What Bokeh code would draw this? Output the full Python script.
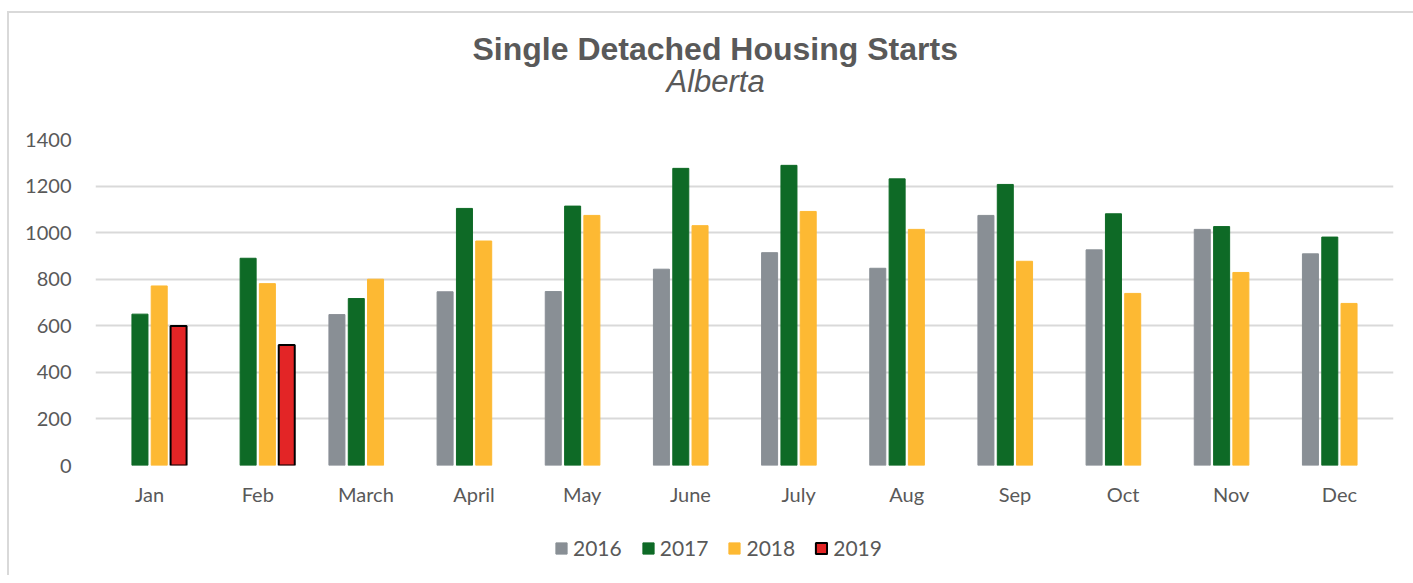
import math
from bokeh.plotting import figure
from bokeh.layouts import column
from bokeh.models import FactorRange, Range1d, Legend, LegendItem, Title, ColumnDataSource, SingleIntervalTicker
from bokeh.transform import dodge
from bokeh.embed import file_html
from bokeh.resources import INLINE

months = ["Jan", "Feb", "March", "April", "May", "June", "July", "Aug", "Sep", "Oct", "Nov", "Dec"]
years = ["2016", "2017", "2018", "2019"]
s2016 = [None, None, 648, 746, 747, 843, 914, 847, 1074, 926, 1014, 909]
s2017 = [650, 890, 717, 1104, 1114, 1276, 1289, 1231, 1207, 1081, 1026, 981]
s2018 = [771, 781, 800, 964, 1074, 1030, 1091, 1014, 877, 739, 829, 696]
s2019 = [599, 518, None, None, None, None, None, None, None, None, None, None]

colors = ["#898F95", "#0E6A26", "#FDB933", "#E32526"]
outlines = ["#898F95", "#0E6A26", "#FDB933", "#000000"]
offsets = [-0.268, -0.089, 0.089, 0.268]

def clean(v):
    return [float("nan") if x is None else x for x in v]

src = ColumnDataSource(dict(month=months, y2016=clean(s2016), y2017=clean(s2017),
                            y2018=clean(s2018), y2019=clean(s2019)))

TXT = "#595959"
FONT = "Lato"
DX, DY = 9, 13  # shift caused by the outer border/margin
W = 1413 - DX

p = figure(x_range=FactorRange(*months), y_range=Range1d(0, 1400),
           width=W, height=530 - DY, output_backend="svg", toolbar_location=None,
           min_border_left=95 - DX, min_border_right=20, min_border_top=139 - DY, min_border_bottom=65)

for i, y in enumerate(years):
    p.vbar(x=dodge("month", offsets[i], range=p.x_range), top="y" + y, width=0.148,
           source=src, fill_color=colors[i], line_color=outlines[i],
           line_width=2 if y == "2019" else 1)

p.outline_line_color = None
p.background_fill_color = "white"
p.border_fill_color = "white"
p.xgrid.grid_line_color = None
p.ygrid.grid_line_color = "#D9D9D9"
p.ygrid.grid_line_width = 2
p.yaxis.ticker = SingleIntervalTicker(interval=200)
for ax in (p.xaxis, p.yaxis):
    ax.axis_line_color = None
    ax.major_tick_line_color = None
    ax.minor_tick_line_color = None
    ax.major_tick_out = 0
    ax.major_tick_in = 0
    ax.major_label_text_font = FONT
    ax.major_label_text_font_size = "20px"
    ax.major_label_text_color = TXT
p.yaxis.major_label_standoff = 20
p.xaxis.major_label_standoff = 16
p.x_range.range_padding = 0

sub = Title(text="Alberta", align="left", text_font="Liberation Sans", text_font_size="31px",
            text_font_style="italic", text_color=TXT, standoff=82, offset=571)
main = Title(text="Single Detached Housing Starts", align="left", text_font="Liberation Sans",
             text_font_size="32px", text_font_style="bold", text_color=TXT, standoff=-93, offset=377)
p.add_layout(sub, "above")
p.add_layout(main, "above")

# legend strip below the chart (hidden proxy renderers; only the legend shows)
lf = figure(width=W, height=45, output_backend="svg", toolbar_location=None,
            x_range=FactorRange(*months), y_range=Range1d(5000, 6000),
            x_axis_location=None, y_axis_location=None,
            min_border_left=0, min_border_right=0, min_border_top=0, min_border_bottom=0)
lf.outline_line_color = None
lf.xgrid.grid_line_color = None
lf.ygrid.grid_line_color = None
lf.border_fill_color = "white"
items = []
for i, y in enumerate(years):
    r = lf.vbar(x=dodge("month", offsets[i], range=lf.x_range), top="y" + y, width=0.148,
                source=src, fill_color=colors[i], line_color=outlines[i],
                line_width=2 if y == "2019" else 1, visible=False)
    items.append(LegendItem(label=y, renderers=[r]))
legend = Legend(items=items, orientation="horizontal", location=(468 - DX, 15),
                label_text_font=FONT, label_text_font_size="21px", label_text_color=TXT,
                glyph_width=14, glyph_height=14, spacing=19, label_standoff=5,
                border_line_color=None, background_fill_alpha=0, padding=4, margin=0,
                inactive_fill_alpha=0)
lf.add_layout(legend, "center")

layout = column(p, lf, spacing=0,
                styles={"border-top": "2px solid #D9D9D9", "border-left": "2px solid #D9D9D9",
                        "margin-left": "7px", "margin-top": "11px"})
open("out.html", "w").write(file_html(layout, INLINE))
